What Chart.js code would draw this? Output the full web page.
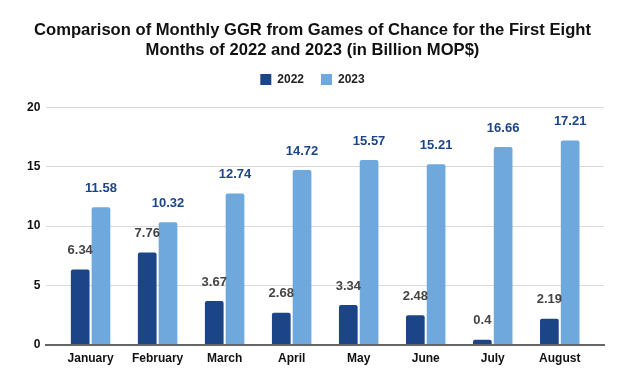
<!DOCTYPE html>
<html><head><meta charset="utf-8">
<script src="https://cdn.jsdelivr.net/npm/chart.js@4/dist/chart.umd.min.js"></script>
<style>html,body{margin:0;padding:0;background:#fff}#wrap{width:624px;height:385px;position:relative}</style>
</head><body><div id="wrap"><canvas id="c" width="624" height="385"></canvas></div>
<script>
const months = ["January","February","March","April","May","June","July","August"];
const ggr2022 = [6.34, 7.76, 3.67, 2.68, 3.34, 2.48, 0.4, 2.19];
const ggr2023 = [11.58, 10.32, 12.74, 14.72, 15.57, 15.21, 16.66, 17.21];
const yTicks = [0, 5, 10, 15, 20];
const seriesNames = ["2022", "2023"];
const titleLines = ["Comparison of Monthly GGR from Games of Chance for the First Eight", "Months of 2022 and 2023 (in Billion MOP$)"];

const FONT = "'Liberation Sans', Arial, sans-serif";
const DARK = "#1c4587", LIGHT = "#6fa8dc";

const valueLabels = {
  id: 'valueLabels',
  afterDatasetsDraw(chart) {
    const ctx = chart.ctx;
    ctx.save();
    ctx.font = "bold 13px " + FONT;
    ctx.textAlign = 'center';
    ctx.textBaseline = 'middle';
    chart.data.datasets.forEach((ds, di) => {
      const meta = chart.getDatasetMeta(di);
      ctx.fillStyle = di === 0 ? '#444444' : DARK;
      meta.data.forEach((el, i) => {
        ctx.fillText(String(ds.data[i].y), el.x, el.y - 19);
      });
    });
    ctx.restore();
  }
};
const legendShift = {
  id: 'legendShift',
  afterLayout(chart) {
    if (chart.legend) { chart.legend.top -= 12; chart.legend.bottom -= 12; }
  }
};

new Chart(document.getElementById('c'), {
  type: 'bar',
  data: {
    datasets: [
      { label: seriesNames[0], data: months.map((m, i) => ({x: i, y: ggr2022[i]})), backgroundColor: DARK,
        borderRadius: {topLeft: 2, topRight: 2}, borderSkipped: 'start' },
      { label: seriesNames[1], data: months.map((m, i) => ({x: i, y: ggr2023[i]})), backgroundColor: LIGHT,
        borderRadius: {topLeft: 2, topRight: 2}, borderSkipped: 'start' }
    ]
  },
  options: {
    responsive: false,
    animation: false,
    devicePixelRatio: 1,
    categoryPercentage: 0.62,
    barPercentage: 0.9,
    layout: { padding: { left: 21, right: 20, top: 10, bottom: 12 } },
    plugins: {
      title: { display: true, text: titleLines, color: '#111', font: { family: FONT, size: 16.6, weight: 'bold', lineHeight: 1.22 }, padding: { top: 10, bottom: 8 } },
      legend: { display: true, position: 'top', labels: { color: '#222', font: { family: FONT, size: 12, weight: 'bold' }, boxWidth: 11, boxHeight: 11, padding: 17 } },
      tooltip: { enabled: false }
    },
    scales: {
      x: {
        type: 'linear', min: -0.66, max: 7.66, offset: false,
        afterBuildTicks(axis) { axis.ticks = months.map((m, i) => ({ value: i })); },
        ticks: { callback: v => months[v], color: '#111', font: { family: FONT, size: 12, weight: 'bold' }, padding: 7, maxRotation: 0, autoSkip: false },
        grid: { display: false, drawTicks: false },
        border: { display: true, color: '#666', width: 2 }
      },
      y: {
        min: 0, max: 20,
        afterBuildTicks(axis) { axis.ticks = yTicks.map(v => ({ value: v })); },
        ticks: { color: '#111', font: { family: FONT, size: 12, weight: 'bold' }, padding: 6 },
        grid: { color: '#d9d9d9', drawTicks: false, lineWidth: 1 },
        border: { display: false }
      }
    }
  },
  plugins: [valueLabels, legendShift]
});
</script></body></html>
